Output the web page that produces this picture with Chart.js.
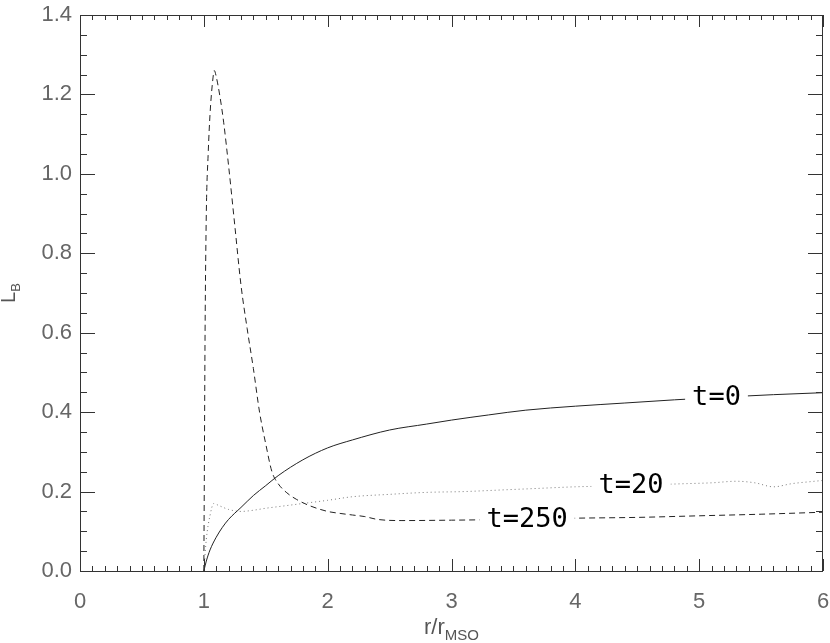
<!DOCTYPE html>
<html>
<head>
<meta charset="utf-8">
<script src="https://cdn.jsdelivr.net/npm/chart.js@4.4.0/dist/chart.umd.min.js"></script>
<style>
  html, body { margin: 0; padding: 0; background: #fff; overflow: hidden; }
  canvas { display: block; }
</style>
</head>
<body>
<canvas id="chart" width="830" height="643"></canvas>
<script>
// t = 0 (solid)
const r0 = [1.0, 1.02, 1.05, 1.1, 1.15, 1.2, 1.3, 1.4, 1.5, 1.6, 1.8, 2.0, 2.2, 2.5, 2.8, 3.0, 3.3, 3.6, 4.0, 4.4, 4.8, 5.2, 5.6, 6.0];
const lb0 = [0, 0.025, 0.053, 0.085, 0.11, 0.13, 0.16, 0.19, 0.215, 0.24, 0.28, 0.31, 0.33, 0.355, 0.37, 0.38, 0.393, 0.405, 0.415, 0.423, 0.431, 0.438, 0.444, 0.449];

// t = 20 (dotted)
const r20 = [1.0, 1.02, 1.05, 1.08, 1.12, 1.2, 1.3, 1.4, 1.5, 1.6, 1.8, 2.0, 2.2, 2.5, 2.8, 3.1, 3.4, 3.7, 4.0, 4.3, 4.6, 4.9, 5.1, 5.3, 5.45, 5.6, 5.75, 5.9, 6.0];
const lb20 = [0, 0.08, 0.14, 0.17, 0.165, 0.155, 0.15, 0.153, 0.158, 0.162, 0.17, 0.178, 0.187, 0.193, 0.198, 0.2, 0.204, 0.208, 0.212, 0.214, 0.217, 0.22, 0.222, 0.226, 0.222, 0.212, 0.22, 0.225, 0.228];

// t = 250 (dashed)
const r250 = [1.0, 1.005, 1.01, 1.02, 1.035, 1.05, 1.07, 1.085, 1.1, 1.13, 1.16, 1.2, 1.25, 1.3, 1.35, 1.4, 1.45, 1.5, 1.55, 1.6, 1.67, 1.75, 1.85, 2.0, 2.1, 2.2, 2.3, 2.4, 2.6, 3.0, 3.5, 4.0, 4.5, 5.0, 5.5, 6.0];
const lb250 = [0, 0.3, 0.6, 0.9, 1.05, 1.15, 1.23, 1.26, 1.245, 1.195, 1.13, 1.02, 0.87, 0.72, 0.61, 0.51, 0.40, 0.32, 0.25, 0.22, 0.197, 0.18, 0.165, 0.15, 0.145, 0.141, 0.137, 0.13, 0.127, 0.128, 0.13, 0.133, 0.135, 0.139, 0.143, 0.148];

const xTicks = [0, 1, 2, 3, 4, 5, 6];
const yTicks = [0.0, 0.2, 0.4, 0.6, 0.8, 1.0, 1.2, 1.4];

// curve labels: text, x, y (data units)
const curveLabels = [
  { text: "t=0", x: 5.14, y: 0.437 },
  { text: "t=20", x: 4.45, y: 0.217 },
  { text: "t=250", x: 3.61, y: 0.131 }
];

const pts = (xs, ys) => xs.map((x, i) => ({ x: x, y: ys[i] }));

const framePlugin = {
  id: "frame",
  afterDatasetsDraw(chart) {
    const ctx = chart.ctx;
    const a = chart.chartArea;
    const xs = chart.scales.x, ys = chart.scales.y;
    ctx.save();

    // curve labels with white gap behind
    ctx.font = "27px 'DejaVu Sans Mono'";
    ctx.textAlign = "center";
    ctx.textBaseline = "middle";
    curveLabels.forEach(l => {
      const px = xs.getPixelForValue(l.x), py = ys.getPixelForValue(l.y);
      const w = ctx.measureText(l.text).width;
      ctx.fillStyle = "#fff";
      ctx.fillRect(px - w / 2 - 7, py - 12, w + 14, 24);
      ctx.fillStyle = "#000";
      ctx.fillText(l.text, px, py + 1);
    });

    // box
    ctx.strokeStyle = "#333";
    ctx.lineWidth = 1;
    ctx.strokeRect(a.left + 0.5, a.top + 0.5, a.right - a.left - 1, a.bottom - a.top);

    // x ticks (top and bottom, inward)
    ctx.beginPath();
    for (let i = 0; i <= 60; i++) {
      const v = i / 10;
      const px = Math.round(xs.getPixelForValue(v)) + 0.5;
      const len = (i % 10 === 0) ? 12 : 5;
      ctx.moveTo(px, a.bottom); ctx.lineTo(px, a.bottom - len);
      ctx.moveTo(px, a.top); ctx.lineTo(px, a.top + len);
    }
    // y ticks (left and right, inward)
    for (let i = 0; i <= 28; i++) {
      const v = i * 0.05;
      const py = Math.round(ys.getPixelForValue(v)) + 0.5;
      const len = (i % 4 === 0) ? 15 : 7;
      ctx.moveTo(a.left, py); ctx.lineTo(a.left + len, py);
      ctx.moveTo(a.right, py); ctx.lineTo(a.right - len, py);
    }
    ctx.stroke();

    // axis titles
    ctx.fillStyle = "#555";
    ctx.textBaseline = "alphabetic";
    const cx = (a.left + a.right) / 2;
    ctx.font = "22px 'Liberation Sans'";
    ctx.textAlign = "left";
    const t1 = "r/r";
    const sub = "MSO";
    const w1 = ctx.measureText(t1).width;
    ctx.font = "15px 'Liberation Sans'";
    const w2 = ctx.measureText(sub).width;
    const start = cx - (w1 + w2) / 2;
    ctx.font = "22px 'Liberation Sans'";
    ctx.fillText(t1, start, 634);
    ctx.font = "15px 'Liberation Sans'";
    ctx.fillText(sub, start + w1, 640);

    ctx.translate(15, (a.top + a.bottom) / 2);
    ctx.rotate(-Math.PI / 2);
    ctx.font = "20px 'Liberation Sans'";
    const wl = ctx.measureText("L").width;
    ctx.font = "13px 'Liberation Sans'";
    const wb = ctx.measureText("B").width;
    ctx.font = "20px 'Liberation Sans'";
    ctx.fillText("L", -(wl + wb) / 2, 0);
    ctx.font = "13px 'Liberation Sans'";
    ctx.fillText("B", -(wl + wb) / 2 + wl, 5);
    ctx.restore();
  }
};

new Chart(document.getElementById("chart"), {
  type: "line",
  data: {
    datasets: [
      { label: "t=0", data: pts(r0, lb0), borderColor: "#222", borderWidth: 1, pointRadius: 0, cubicInterpolationMode: "monotone" },
      { label: "t=20", data: pts(r20, lb20), borderColor: "#777", borderWidth: 1, borderDash: [1, 3], pointRadius: 0, cubicInterpolationMode: "monotone" },
      { label: "t=250", data: pts(r250, lb250), borderColor: "#222", borderWidth: 1, borderDash: [6, 4], pointRadius: 0, cubicInterpolationMode: "monotone" }
    ]
  },
  options: {
    responsive: false,
    animation: false,
    layout: { autoPadding: false, padding: { top: 15, right: 7, left: 0, bottom: 0 } },
    plugins: { legend: { display: false }, tooltip: { enabled: false } },
    scales: {
      x: {
        type: "linear", min: 0, max: 6,
        afterBuildTicks: s => { s.ticks = xTicks.map(v => ({ value: v })); },
        afterFit: s => { s.height = 72; s.paddingLeft = 0; s.paddingRight = 0; },
        grid: { display: false, drawTicks: true, tickLength: 18 },
        border: { display: false },
        ticks: { padding: 0, color: "#666", font: { family: "Liberation Sans", size: 22 }, maxRotation: 0, callback: v => String(v) }
      },
      y: {
        type: "linear", min: 0, max: 1.4,
        afterBuildTicks: s => { s.ticks = yTicks.map(v => ({ value: v })); },
        afterFit: s => { s.width = 80; s.paddingTop = 0; s.paddingBottom = 0; },
        grid: { display: false, drawTicks: true, tickLength: 8 },
        border: { display: false },
        ticks: { padding: 0, color: "#666", font: { family: "Liberation Sans", size: 22 }, callback: v => Number(v).toFixed(1) }
      }
    }
  },
  plugins: [framePlugin]
});
</script>
</body>
</html>
